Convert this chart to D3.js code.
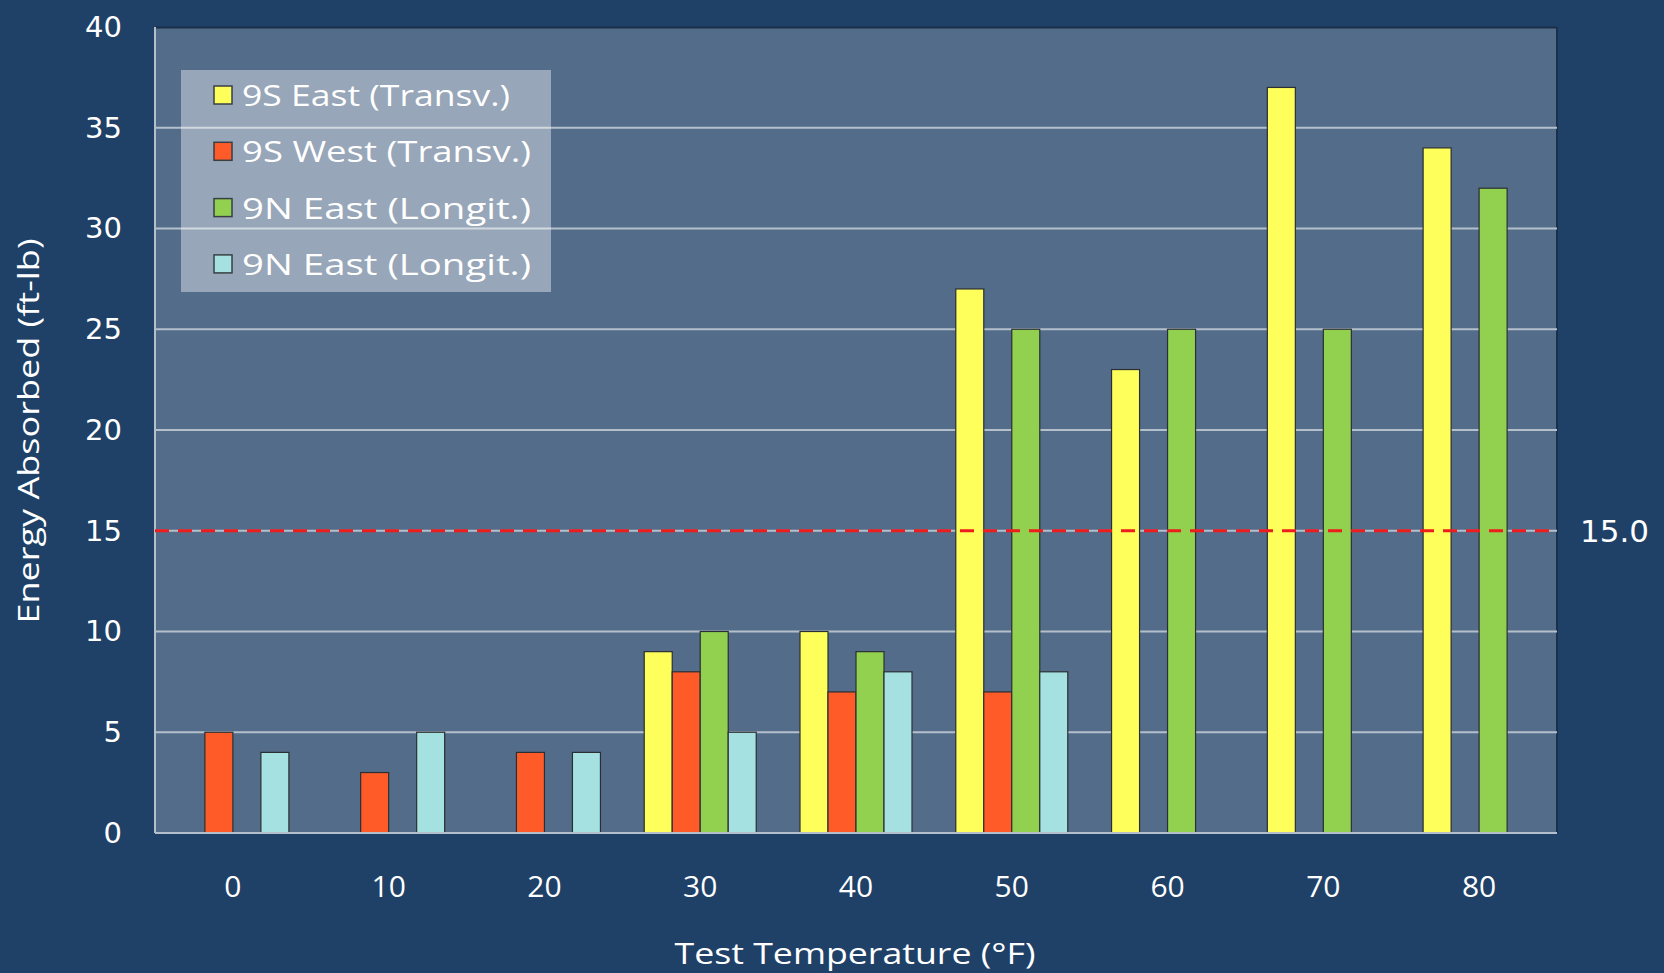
<!DOCTYPE html>
<html>
<head>
<meta charset="utf-8">
<script src="https://cdn.jsdelivr.net/npm/d3@7"></script>
<style>
  body { margin: 0; background: #1f4167; }
  svg { display: block; }
</style>
</head>
<body>
<script>
// data
var temps = ["0", "10", "20", "30", "40", "50", "60", "70", "80"];
var seriesNames = ["9S East (Transv.)", "9S West (Transv.)", "9N East (Longit.)", "9N East (Longit.)"];
var seriesColors = ["#ffff5c", "#ff5b29", "#92d14f", "#a6e1e1"];
var eastTransv = [null, null, null, 9, 10, 27, 23, 37, 34];
var westTransv = [5, 3, 4, 8, 7, 7, null, null, null];
var eastLongit = [null, null, null, 10, 9, 25, 25, 25, 32];
var eastLongit2 = [4, 5, 4, 5, 8, 8, null, null, null];
var yTicks = [0, 5, 10, 15, 20, 25, 30, 35, 40];
var refValue = 15;

var allSeries = [eastTransv, westTransv, eastLongit, eastLongit2];

var w = 1664, h = 973;
var plotL = 155, plotR = 1557, plotT = 27, plotB = 833;

var svg = d3.select("body").append("svg")
    .attr("width", w)
    .attr("height", h);

svg.append("rect").attr("width", w).attr("height", h).attr("fill", "#1f4167");

var x = d3.scaleBand().domain(temps).range([plotL, plotR]).padding(0);
var sub = d3.scaleBand().domain(d3.range(4)).range([-56, 56]).padding(0);
var y = d3.scaleLinear().domain([0, 40]).range([plotB, plotT]);

// plot area
svg.append("rect")
    .attr("x", plotL).attr("y", plotT)
    .attr("width", plotR - plotL).attr("height", plotB - plotT)
    .attr("fill", "#536c89");
svg.append("line")
    .attr("x1", plotL).attr("x2", plotR).attr("y1", plotT + 0.5).attr("y2", plotT + 0.5)
    .attr("stroke", "#1a2f48").attr("stroke-width", 2);
svg.append("line")
    .attr("x1", plotR).attr("x2", plotR).attr("y1", plotT).attr("y2", plotB)
    .attr("stroke", "#1a2f48").attr("stroke-width", 2);

// gridlines
svg.append("g").selectAll("line")
    .data(yTicks.filter(function(d) { return d > 0 && d < 40; }))
    .enter().append("line")
    .attr("x1", plotL).attr("x2", plotR)
    .attr("y1", function(d) { return y(d); })
    .attr("y2", function(d) { return y(d); })
    .attr("stroke", "#b4bfcc").attr("stroke-width", 2);

// left axis line (light)
svg.append("line")
    .attr("x1", plotL).attr("x2", plotL).attr("y1", plotT).attr("y2", plotB)
    .attr("stroke", "#b4bfcc").attr("stroke-width", 2);

// legend box
svg.append("rect")
    .attr("x", 181).attr("y", 70).attr("width", 370).attr("height", 222)
    .attr("fill", "#ffffff").attr("fill-opacity", 0.4);

// bars
allSeries.forEach(function(vals, si) {
    svg.append("g").selectAll("rect")
        .data(vals.map(function(v, i) { return {t: temps[i], v: v}; }).filter(function(d) { return d.v !== null; }))
        .enter().append("rect")
        .attr("x", function(d) { return x(d.t) + x.bandwidth() / 2 + sub(si); })
        .attr("y", function(d) { return y(d.v); })
        .attr("width", sub.bandwidth())
        .attr("height", function(d) { return y(0) - y(d.v); })
        .attr("fill", seriesColors[si])
        .attr("stroke", "#2b2f33").attr("stroke-width", 1.2);
});

// bottom axis line
svg.append("line")
    .attr("x1", plotL).attr("x2", plotR).attr("y1", plotB).attr("y2", plotB)
    .attr("stroke", "#b4bfcc").attr("stroke-width", 2);

// reference line
svg.append("line")
    .attr("x1", plotL).attr("x2", plotR)
    .attr("y1", y(refValue)).attr("y2", y(refValue))
    .attr("stroke", "#ee1c1c").attr("stroke-width", 3)
    .attr("stroke-dasharray", "14,9");
svg.append("text")
    .attr("x", 1580).attr("y", y(refValue) + 11)
    .attr("fill", "#ffffff")
    .attr("font-family", "DejaVu Sans").attr("font-size", 31)
    .text(refValue.toFixed(1));

// y axis ticks
var yAxis = d3.axisLeft(y).tickValues(yTicks).tickSize(0).tickPadding(0);
var gy = svg.append("g").attr("transform", "translate(122,0)").call(yAxis);
gy.select(".domain").remove();
gy.selectAll("text")
    .attr("fill", "#ffffff")
    .attr("font-family", "DejaVu Sans").attr("font-size", 29);

// x axis ticks
var xAxis = d3.axisBottom(x).tickSize(0).tickPadding(0);
var gx = svg.append("g").attr("transform", "translate(0,876)").call(xAxis);
gx.select(".domain").remove();
gx.selectAll("text")
    .attr("fill", "#ffffff")
    .attr("font-family", "Open Sans").attr("font-size", 30);

// axis titles
svg.append("text")
    .attr("transform", "translate(39,431) rotate(-90)")
    .attr("text-anchor", "middle")
    .attr("fill", "#ffffff")
    .attr("font-family", "Open Sans").attr("font-size", 29)
    .attr("textLength", 385).attr("lengthAdjust", "spacingAndGlyphs")
    .text("Energy Absorbed (ft-lb)");
svg.append("text")
    .attr("x", 855).attr("y", 964)
    .attr("text-anchor", "middle")
    .attr("fill", "#ffffff")
    .attr("font-family", "Open Sans").attr("font-size", 30)
    .attr("textLength", 361).attr("lengthAdjust", "spacingAndGlyphs")
    .text("Test Temperature (°F)");

// legend
var legendLens = [268, 289, 289, 289];
var leg = svg.append("g").selectAll("g")
    .data(seriesNames)
    .enter().append("g")
    .attr("transform", function(d, i) { return "translate(214," + (95 + i * 56.3) + ")"; });
leg.append("rect")
    .attr("x", 0).attr("y", -9).attr("width", 18).attr("height", 18)
    .attr("fill", function(d, i) { return seriesColors[i]; })
    .attr("stroke", "#3a3f44").attr("stroke-width", 1.5);
leg.append("text")
    .attr("x", 28).attr("y", 11)
    .attr("fill", "#ffffff")
    .attr("font-family", "Open Sans").attr("font-size", 30)
    .attr("textLength", function(d, i) { return legendLens[i]; })
    .attr("lengthAdjust", "spacingAndGlyphs")
    .text(function(d) { return d; });
</script>
</body>
</html>
